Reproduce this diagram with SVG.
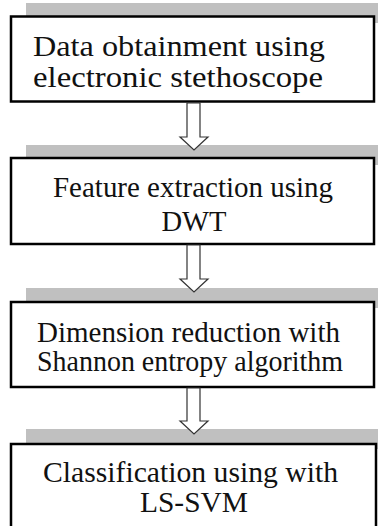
<svg xmlns="http://www.w3.org/2000/svg" width="378" height="526" viewBox="0 0 378 526">
  <style>
    .shadow { fill: #c0c0c0; }
    .box { fill: #ffffff; stroke: #000000; stroke-width: 2.5; }
    .label { font-family: "Liberation Serif", "Times New Roman", serif; font-size: 29px; fill: #111111; text-anchor: middle; }
    .arrow { fill: #ffffff; stroke: #333333; stroke-width: 1.2; stroke-linejoin: miter; }
  </style>
  <rect width="378" height="526" fill="#ffffff"/>

  <g id="step1">
    <rect class="shadow" x="26" y="3" width="360" height="20"/>
    <rect class="box" x="11" y="16.5" width="363" height="85"/>
    <text class="label" x="179" y="56" textLength="292" lengthAdjust="spacingAndGlyphs">Data obtainment using</text>
    <text class="label" x="178" y="87" textLength="290" lengthAdjust="spacingAndGlyphs">electronic stethoscope</text>
  </g>

  <g id="step2">
    <rect class="shadow" x="26" y="145" width="360" height="20"/>
    <rect class="box" x="11" y="158" width="363" height="86"/>
    <text class="label" x="193" y="197" textLength="280" lengthAdjust="spacingAndGlyphs">Feature extraction using</text>
    <text class="label" x="194" y="231" textLength="65" lengthAdjust="spacingAndGlyphs">DWT</text>
  </g>

  <g id="step3">
    <rect class="shadow" x="26" y="288" width="360" height="20"/>
    <rect class="box" x="11" y="302" width="363" height="85"/>
    <text class="label" x="188.5" y="342" textLength="303" lengthAdjust="spacingAndGlyphs">Dimension reduction with</text>
    <text class="label" x="190" y="371" textLength="306" lengthAdjust="spacingAndGlyphs">Shannon entropy algorithm</text>
  </g>

  <g id="step4">
    <rect class="shadow" x="26" y="429" width="360" height="20"/>
    <rect class="box" x="11" y="444" width="365" height="100"/>
    <text class="label" x="190.5" y="482" textLength="295" lengthAdjust="spacingAndGlyphs">Classification using with</text>
    <text class="label" x="194" y="512" textLength="108" lengthAdjust="spacingAndGlyphs">LS-SVM</text>
  </g>

  <g id="connectors">
    <polygon class="arrow" points="187,103 200,103 200,137 208,137 194,150 180,137 187,137"/>
    <polygon class="arrow" points="187,245 200,245 200,279 208,279 194,292 180,279 187,279"/>
    <polygon class="arrow" points="187,388 200,388 200,421 208,421 194,434 180,421 187,421"/>
  </g>
</svg>
